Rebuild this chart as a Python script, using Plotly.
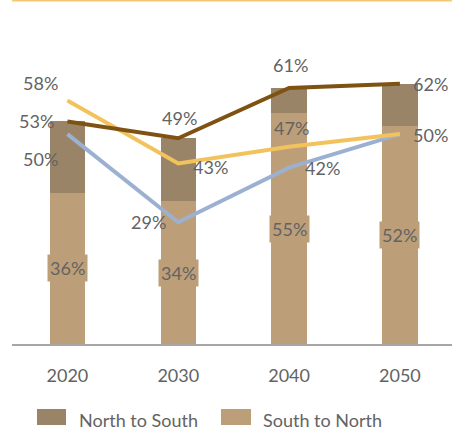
import plotly.graph_objects as go

years = ["2020", "2030", "2040", "2050"]
south_to_north = [36, 34, 55, 52]
north_to_south = [17, 15, 6, 10]
line_brown = [53, 49, 61, 62]
line_yellow = [58, 43, 47, 50]
line_blue = [50, 29, 42, 50]

C_TOP = "#9A8467"
C_BOT = "#BC9F79"
C_BROWN = "#7E5213"
C_YELLOW = "#F2C35C"
C_BLUE = "#9CB1D2"
TXT = "#636363"
FONT = "Lato"
FS = 18

W, H = 452, 430
ML, MR, MT, MB = 12, 0, 1, 86
PW, PH = W - ML - MR, H - MT - MB


def px(x):
    return (x - ML) / PW


def py(y):
    return (H - MB - y) / PH


fig = go.Figure()
fig.add_trace(go.Bar(x=years, y=south_to_north, marker_color=C_BOT, width=0.32,
                     marker_line_width=0, name="South to North", showlegend=False))
fig.add_trace(go.Bar(x=years, y=north_to_south, marker_color=C_TOP, width=0.32,
                     marker_line_width=0, name="North to South", showlegend=False))
fig.add_trace(go.Scatter(x=years, y=line_blue, mode="lines",
                         line=dict(color=C_BLUE, width=4), showlegend=False))
fig.add_trace(go.Scatter(x=years, y=line_yellow, mode="lines",
                         line=dict(color=C_YELLOW, width=4), showlegend=False))
fig.add_trace(go.Scatter(x=years, y=line_brown, mode="lines",
                         line=dict(color=C_BROWN, width=4), showlegend=False))

ann = []
# bar labels centred in the lower segment, with boxed background
for i, v in enumerate(south_to_north):
    ann.append(dict(x=i, y=v / 2, text=f"{v}%", showarrow=False,
                    bgcolor=C_BOT, borderpad=2,
                    font=dict(family=FONT, size=FS, color=TXT)))

# line labels: offsets per year
offsets = {
    "brown": [(-31, 0), (1, 20), (1, 23), (31, 0)],
    "yellow": [(-27, 18), (32, -4), (2, 19), (31, -1)],
    "blue": [(-27, -25), (-30, 0), (33, 0), None],
}
series = {"brown": line_brown, "yellow": line_yellow, "blue": line_blue}
for key, vals in series.items():
    for i, (v, off) in enumerate(zip(vals, offsets[key])):
        if off is None:
            continue
        ann.append(dict(x=i, y=v, text=f"{v}%", showarrow=False,
                        xshift=off[0], yshift=off[1],
                        font=dict(family=FONT, size=FS, color=TXT)))

# legend (manual)
shapes = [
    dict(type="line", xref="paper", yref="paper", x0=px(12), x1=px(452),
         y0=py(0.8), y1=py(0.8), line=dict(color="#F3C871", width=1.6)),
    dict(type="rect", xref="paper", yref="paper", x0=px(37), x1=px(66),
         y0=py(425), y1=py(409), fillcolor=C_TOP, line=dict(width=0)),
    dict(type="rect", xref="paper", yref="paper", x0=px(221), x1=px(251),
         y0=py(425), y1=py(409), fillcolor=C_BOT, line=dict(width=0)),
]
ann.append(dict(xref="paper", yref="paper", x=px(77), y=py(420), xanchor="left",
                yanchor="middle", text="North to South", showarrow=False,
                font=dict(family=FONT, size=FS, color=TXT)))
ann.append(dict(xref="paper", yref="paper", x=px(261), y=py(420), xanchor="left",
                yanchor="middle", text="South to North", showarrow=False,
                font=dict(family=FONT, size=FS, color=TXT)))

fig.update_layout(
    width=W, height=H,
    margin=dict(l=ML, r=MR, t=MT, b=MB),
    barmode="stack",
    plot_bgcolor="white", paper_bgcolor="white",
    showlegend=False,
    annotations=ann, shapes=shapes,
    xaxis=dict(type="category", range=[-0.5, 3.47], showline=True,
               linecolor="#A6A6A6", linewidth=2, showgrid=False,
               ticks="outside", ticklen=14, tickcolor="rgba(0,0,0,0)",
               tickfont=dict(family=FONT, size=FS, color=TXT)),
    yaxis=dict(range=[0, 81.7], visible=False, showgrid=False),
)

fig.write_html("out.html", config={"displayModeBar": False},
               post_script="document.body.style.margin='0';")
